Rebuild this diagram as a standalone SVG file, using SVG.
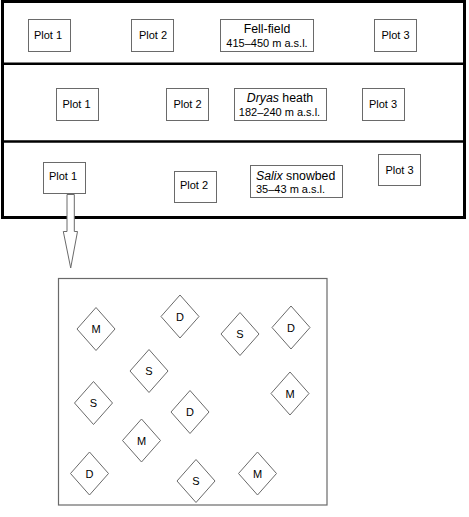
<svg xmlns="http://www.w3.org/2000/svg" width="469" height="517" viewBox="0 0 469 517">
<style>
text{font-family:"Liberation Sans",Arial,sans-serif;fill:#000}
.lbl{font-size:11px;text-anchor:middle}
.ttl{font-size:12.3px;text-anchor:middle}
.st{text-anchor:start}
.box{fill:#fff;stroke:#6a6a6a;stroke-width:1}
.frame{fill:none;stroke:#000;stroke-width:3}
.sep{stroke:#000;stroke-width:2.5}
.dia{fill:#fff;stroke:#6a6a6a;stroke-width:1}
.dl{font-size:11px;text-anchor:middle}
</style>
<defs>
<polygon id="dm" points="0,-21.5 19,0 0,21.5 -19,0"/>
</defs>
<rect width="469" height="517" fill="#fff"/>
<g id="frame">
<rect class="frame" x="2.5" y="1.5" width="462" height="216"/>
<line class="sep" x1="2.5" y1="63.8" x2="464.5" y2="63.8"/>
<line class="sep" x1="2.5" y1="141.5" x2="464.5" y2="141.5"/>
</g>
<g id="connectors">
<polygon points="67,194.5 74.3,194.5 74.3,231.5 77.5,231.5 70.7,268 63.3,231.5 67,231.5" fill="#fff" stroke="#6a6a6a" stroke-width="1"/>
</g>
<g id="r1p1"><rect class="box" x="28.5" y="19.5" width="42" height="32"/><text class="lbl" x="48" y="38.5">Plot 1</text></g>
<g id="r1p2"><rect class="box" x="131.5" y="19.5" width="42" height="32"/><text class="lbl" x="153" y="38.5">Plot 2</text></g>
<g id="r1t"><rect class="box" x="220.5" y="19.5" width="93" height="32"/><text class="ttl" x="267" y="32.5">Fell-field</text><text class="lbl" x="267" y="46.5">415–450 m a.s.l.</text></g>
<g id="r1p3"><rect class="box" x="374.5" y="19.5" width="42" height="32"/><text class="lbl" x="395.5" y="38.5">Plot 3</text></g>
<g id="r2p1"><rect class="box" x="56.5" y="88.5" width="42" height="32"/><text class="lbl" x="76.5" y="107.5">Plot 1</text></g>
<g id="r2p2"><rect class="box" x="166.5" y="88.5" width="42" height="32"/><text class="lbl" x="187.5" y="107.5">Plot 2</text></g>
<g id="r2t"><rect class="box" x="234.5" y="88.5" width="92" height="32"/><text class="ttl" x="280" y="102"><tspan font-style="italic">Dryas</tspan> heath</text><text class="lbl" x="279.5" y="115.5">182–240 m a.s.l.</text></g>
<g id="r2p3"><rect class="box" x="362.5" y="88.5" width="42" height="32"/><text class="lbl" x="383" y="107.5">Plot 3</text></g>
<g id="r3p1"><rect class="box" x="43.5" y="162.5" width="42" height="31"/><text class="lbl" x="63" y="179.5">Plot 1</text></g>
<g id="r3p2"><rect class="box" x="174.5" y="171.5" width="42" height="31"/><text class="lbl" x="194" y="189">Plot 2</text></g>
<g id="r3t"><rect class="box" x="250.5" y="165.5" width="92" height="32"/><text class="ttl st" x="256" y="179.5"><tspan font-style="italic">Salix</tspan> snowbed</text><text class="lbl st" x="256" y="192.5">35–43 m a.s.l.</text></g>
<g id="r3p3"><rect class="box" x="378.5" y="154.5" width="42" height="31"/><text class="lbl" x="399.5" y="173.5">Plot 3</text></g>
<g id="plot">
<rect x="58.5" y="278.5" width="268.5" height="226.5" fill="#fff" stroke="#6a6a6a" stroke-width="1.2"/>
</g>
<g id="d1"><use href="#dm" class="dia" x="96" y="329"/><text class="dl" x="96" y="333">M</text></g>
<g id="d2"><use href="#dm" class="dia" x="180" y="316.5"/><text class="dl" x="180" y="320.5">D</text></g>
<g id="d3"><use href="#dm" class="dia" x="240" y="334"/><text class="dl" x="240" y="338">S</text></g>
<g id="d4"><use href="#dm" class="dia" x="291" y="327.5"/><text class="dl" x="291" y="331.5">D</text></g>
<g id="d5"><use href="#dm" class="dia" x="149" y="371"/><text class="dl" x="149" y="375">S</text></g>
<g id="d6"><use href="#dm" class="dia" x="93.5" y="403"/><text class="dl" x="93.5" y="407">S</text></g>
<g id="d7"><use href="#dm" class="dia" x="190" y="412"/><text class="dl" x="190" y="416">D</text></g>
<g id="d8"><use href="#dm" class="dia" x="290" y="393.5"/><text class="dl" x="290" y="397.5">M</text></g>
<g id="d9"><use href="#dm" class="dia" x="141.5" y="440.5"/><text class="dl" x="141.5" y="444.5">M</text></g>
<g id="d10"><use href="#dm" class="dia" x="89.5" y="473.5"/><text class="dl" x="89.5" y="477.5">D</text></g>
<g id="d11"><use href="#dm" class="dia" x="196" y="481"/><text class="dl" x="196" y="485">S</text></g>
<g id="d12"><use href="#dm" class="dia" x="257.5" y="473.5"/><text class="dl" x="257.5" y="477.5">M</text></g>
</svg>
